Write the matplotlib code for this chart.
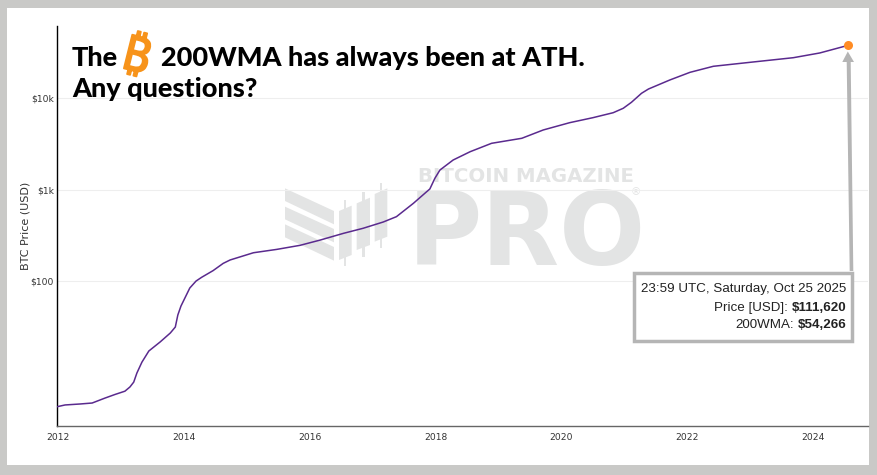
import matplotlib
matplotlib.use("Agg")
import matplotlib.pyplot as plt
import matplotlib.patheffects as pe
from matplotlib import font_manager as fm
from matplotlib.ft2font import FT2Font
from matplotlib.patches import Polygon, Rectangle

W, H = 878, 475

years = [2012.0, 2012.12, 2012.36, 2012.55, 2012.75, 2012.91, 2013.07, 2013.15, 2013.21, 2013.26,
         2013.34, 2013.45, 2013.63, 2013.79, 2013.87, 2013.91, 2013.96, 2014.10, 2014.2, 2014.29,
         2014.47, 2014.63, 2014.74, 2015.11, 2015.48, 2015.85, 2016.17, 2016.54, 2016.85, 2017.17,
         2017.38, 2017.65, 2017.86, 2017.91, 2017.99, 2018.07, 2018.28, 2018.55, 2018.89, 2019.37,
         2019.71, 2020.13, 2020.50, 2020.82, 2020.98, 2021.11, 2021.27, 2021.38, 2021.72, 2022.04,
         2022.41, 2023.04, 2023.68, 2024.10, 2024.54]
wma = [4.2, 4.38, 4.49, 4.6, 5.2, 5.7, 6.2, 6.9, 7.8, 9.8,
       12.9, 17.1, 21.5, 26.9, 31.3, 42.4, 53.2, 83.8, 100, 110,
       130, 156, 170, 204, 222, 246, 281, 333, 378, 443,
       507, 711, 952, 1019, 1334, 1644, 2118, 2612, 3228, 3664,
       4519, 5433, 6166, 6986, 7812, 9083, 11400, 12700, 15960, 19360,
       22540, 25120, 28000, 31550, 38100]
x_ticks = [2012, 2014, 2016, 2018, 2020, 2022, 2024]
y_ticks = [100, 1000, 10000]
y_tick_labels = ["$100", "$1k", "$10k"]

def fx(px): return px / W
def fy(py): return 1 - py / H

fig = plt.figure(figsize=(W / 100, H / 100), dpi=100, facecolor="#c9c9c7")
fig.add_artist(Rectangle((fx(7), fy(465)), (869 - 7) / W, (465 - 8) / H, transform=fig.transFigure,
                         fc="white", ec="none", zorder=-3))

# Watermark
wm = "#e3e4e4"
def poly(points, ox=280, oy=175, s=3):
    pts = [(fx(ox + a / s), fy(oy + b / s)) for a, b in points]
    fig.add_artist(Polygon(pts, transform=fig.transFigure, fc=wm, ec="none", zorder=-2))
poly([(15, 40), (162, 108), (162, 148), (15, 78)])
poly([(15, 95), (162, 162), (162, 202), (15, 133)])
poly([(15, 148), (162, 216), (162, 257), (15, 187)])
for x0, x1, tl, tr, bl, br, wx, wt, wb in [
    (177, 215, 108, 92, 255, 240, 195, 75, 272),
    (230, 270, 85, 68, 225, 210, 250, 50, 245),
    (284, 322, 57, 40, 200, 185, 303, 25, 218)]:
    poly([(x0, tl), (x1, tr), (x1, br), (x0, bl)])
    poly([(wx - 4, wt), (wx + 4, wt), (wx + 4, wb), (wx - 4, wb)])
fig.text(fx(526), fy(182.5), "BITCOIN MAGAZINE", family="DejaVu Sans", weight="bold", fontsize=14.2,
         color=wm, ha="center", va="baseline", zorder=-2)
fig.text(fx(526.5), fy(265), "PRO", family="DejaVu Sans", weight="bold", fontsize=73,
         color=wm, ha="center", va="baseline", zorder=-2)
fig.text(fx(636), fy(192), "®", family="DejaVu Sans", fontsize=7.5, color=wm, ha="center", va="center", zorder=-2)

# Axes
L, R, T, B = 57.5, 868, 26, 426
ax = fig.add_axes([fx(L), fy(B), (R - L) / W, (B - T) / H])
ax.patch.set_alpha(0)
ax.set_yscale("log")
ax.set_xlim(2012, 2012 + (R - L) / 63)
ax.set_ylim(10 ** (4 - (B - 98.5) / 91.25), 10 ** (4 - (T - 98.5) / 91.25))
ax.plot(years, wma, color="#5a2a8e", lw=1.1, solid_joinstyle="round", zorder=3)
ax.plot(years[-1:], wma[-1:], "o", color="#ff8c24", ms=6.5, mec="none", zorder=4)

ax.set_xticks(x_ticks)
ax.set_xticklabels([str(t) for t in x_ticks])
ax.set_yticks(y_ticks)
ax.set_yticklabels(y_tick_labels)
ax.minorticks_off()
ax.tick_params(axis="both", length=0, labelsize=6.6, labelcolor="#333333")
ax.tick_params(axis="x", pad=5)
ax.tick_params(axis="y", pad=2.5)
ax.grid(axis="y", color="#eeeeee", lw=0.8)
ax.set_axisbelow(True)
ax.spines["top"].set_visible(False)
ax.spines["right"].set_visible(False)
ax.spines["left"].set_color("black")
ax.spines["left"].set_linewidth(1.0)
ax.spines["bottom"].set_color("#666666")
ax.spines["bottom"].set_linewidth(1.0)
fig.text(fx(26), fy(226), "BTC Price (USD)", rotation=90, ha="center", va="center",
         fontsize=8, color="#333333")

# Headline
tkw = dict(family="Lato", weight="black", fontsize=19.5, color="black", va="baseline", zorder=6)
fig.text(fx(72), fy(66), "The", ha="left", **tkw)
fig.text(fx(161), fy(66), "200WMA has always been at ATH.", ha="left", **tkw)
fig.text(fx(72), fy(97), "Any questions?", ha="left", **tkw)

# Bitcoin sign: use an installed family that has the glyph
coin_family = None
for fam in ["Noto Sans", "Inter", "Roboto", "Open Sans", "Lato", "Liberation Sans", "DejaVu Sans"]:
    for wt in ["bold", "normal"]:
        try:
            path = fm.findfont(fm.FontProperties(family=fam, weight=wt), fallback_to_default=False)
            if 0x20BF in FT2Font(path).get_charmap():
                coin_family = (fam, wt)
                break
        except Exception:
            pass
    if coin_family:
        break
orange = "#f7931a"
if coin_family:
    coin = fig.text(fx(136), fy(58), "\u20bf", family=coin_family[0], weight="bold", fontsize=35, color=orange,
                    ha="center", va="center", rotation=-14, zorder=6)
    coin.set_path_effects([pe.withStroke(linewidth=1.3, foreground=orange)])
else:
    fig.text(fx(136), fy(52), "B", family="Lato", weight="black", fontsize=31, color=orange,
             ha="center", va="center", rotation=-14, zorder=6)

# Annotation
gray = "#b5b5b5"
fig.add_artist(Polygon([(fx(849.7), fy(271)), (fx(846.7), fy(62)), (fx(842.3), fy(62)), (fx(847.8), fy(51.5)),
                        (fx(854), fy(62)), (fx(850.7), fy(62)), (fx(853.3), fy(271))],
                       transform=fig.transFigure, fc=gray, ec="none", zorder=5))
fig.add_artist(Rectangle((fx(633.8), fy(341)), 218.4 / W, 68.5 / H, transform=fig.transFigure,
                         fc="white", ec=gray, lw=2.5, zorder=5))
bx = dict(family="Liberation Sans", fontsize=9.65, color="#222222", ha="right", va="center", zorder=6)
fig.text(fx(846), fy(289), "23:59 UTC, Saturday, Oct 25 2025", **bx)
fig.text(fx(846), fy(307.7), "$111,620", weight="bold", **bx)
fig.text(fx(847), fy(324.7), "$54,266", weight="bold", **bx)
fig.text(fx(788), fy(307.7), "Price [USD]:", **bx)
fig.text(fx(794.5), fy(324.7), "200WMA:", **bx)

fig.savefig("out.png", dpi=100, facecolor=fig.get_facecolor())
